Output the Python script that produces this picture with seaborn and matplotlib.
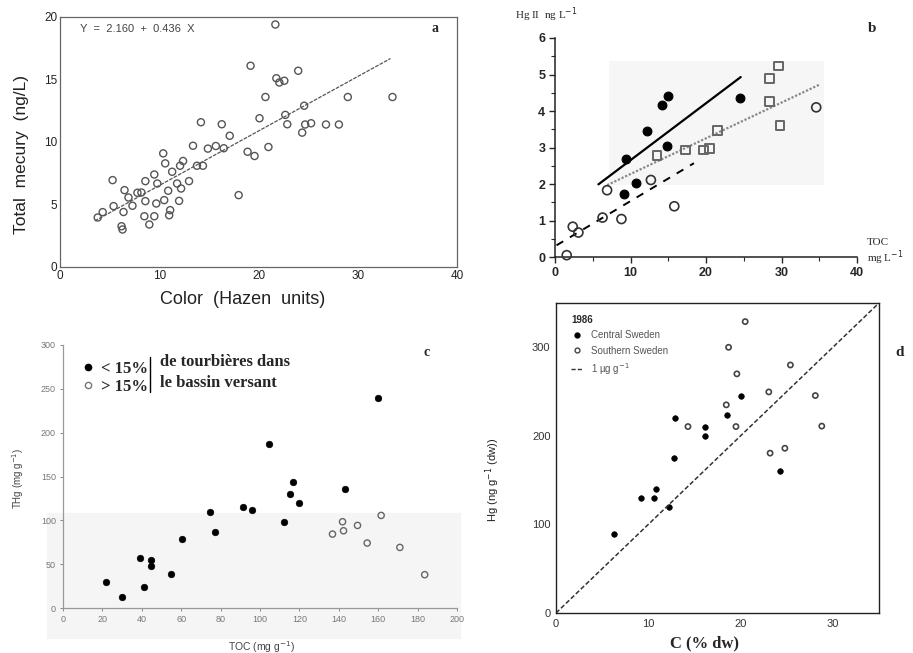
import numpy as np
import pandas as pd
import matplotlib
matplotlib.use("Agg")
import matplotlib.pyplot as plt
import seaborn as sns
from matplotlib.ticker import MultipleLocator
from matplotlib.lines import Line2D
from matplotlib.patches import Rectangle

sns.set_theme(style="white")
plt.rcParams['font.family'] = ['Liberation Sans', 'DejaVu Sans']
SERIF = ['Liberation Serif', 'DejaVu Serif']

# ---------------- Panel a data ----------------
a_color = [3.8, 4.3, 5.3, 5.4, 6.2, 6.3, 6.4, 6.5, 6.9, 7.3, 7.8, 8.2, 8.6, 8.6, 8.5,
           9.0, 9.5, 9.5, 9.7, 9.8, 10.4, 10.6, 10.5, 10.9, 11.1, 11.0, 11.3, 11.8,
           12.1, 12.0, 12.2, 12.4, 13.0, 13.4, 13.8, 14.4, 14.2, 14.9, 15.7, 16.3,
           16.5, 17.1, 18.0, 19.2, 18.9, 19.6, 20.1, 20.7, 21.0, 21.7, 21.8, 22.1,
           22.6, 22.9, 22.7, 24.0, 24.4, 24.6, 24.7, 25.3, 26.8, 28.1, 29.0, 33.5]
a_hg = [3.96, 4.39, 6.95, 4.87, 3.26, 3.0, 4.4, 6.15, 5.56, 4.9, 5.94, 5.96, 5.27, 6.87,
        4.06, 3.4, 7.4, 4.06, 5.08, 6.68, 9.09, 8.29, 5.35, 6.1, 4.55, 4.14, 7.62, 6.68,
        8.1, 5.29, 6.28, 8.48, 6.87, 9.7, 8.1, 8.1, 11.58, 9.47, 9.68, 11.42, 9.5, 10.5,
        5.75, 16.1, 9.22, 8.88, 11.9, 13.6, 9.6, 19.4, 15.1, 14.76, 14.9, 11.42, 12.17,
        15.7, 10.75, 12.9, 11.4, 11.5, 11.4, 11.4, 13.6, 13.6]
a_intercept = 2.160
a_slope = 0.436
a_fit_range = [3.5, 33.3]

# ---------------- Panel b data ----------------
b_filled_toc = [9.4, 10.75, 12.2, 14.2, 15.0, 14.9, 9.2, 24.5]
b_filled_hg = [2.68, 2.04, 3.44, 4.17, 4.42, 3.03, 1.72, 4.36]
b_square_toc = [13.5, 17.3, 19.7, 20.5, 21.5, 28.4, 28.4, 29.6, 29.8]
b_square_hg = [2.78, 2.93, 2.93, 2.98, 3.46, 4.26, 4.88, 5.23, 3.6]
b_open_toc = [1.55, 2.35, 3.1, 6.3, 8.8, 12.7, 15.8, 6.9, 34.6]
b_open_hg = [0.05, 0.83, 0.67, 1.08, 1.04, 2.11, 1.39, 1.83, 4.1]
b_solid_x, b_solid_y = [5.75, 24.6], [1.99, 4.93]
b_dotted_x, b_dotted_y = [6.9, 35.0], [1.97, 4.72]
b_dashed_x, b_dashed_y = [0.2, 18.4], [0.32, 2.57]

# ---------------- Panel c data ----------------
c_low_toc = [22.0, 30.0, 39.2, 41.2, 44.6, 44.6, 54.7, 60.5, 74.7, 77.3, 91.4, 95.8,
             104.6, 112.2, 115.3, 116.9, 119.7, 143.1, 160.0]
c_low_thg = [29.2, 12.5, 57.3, 23.5, 55.0, 47.5, 38.4, 78.6, 109.4, 86.6, 115.0, 112.0,
             186.9, 97.6, 129.9, 143.2, 119.6, 136.0, 239.3]
c_high_toc = [136.8, 141.9, 142.4, 149.5, 154.4, 161.5, 171.0, 183.6]
c_high_thg = [84.3, 98.4, 88.1, 94.2, 74.1, 105.6, 69.1, 38.0]

# ---------------- Panel d data ----------------
d_central_c = [6.26, 9.17, 10.58, 10.86, 12.23, 12.84, 12.9, 16.1, 16.1, 18.5, 20.0, 24.3]
d_central_hg = [88.7, 130, 130, 140, 120, 175, 220, 210, 200, 224, 245, 160.5]
d_south_c = [18.7, 20.5, 14.3, 18.45, 19.6, 19.5, 23.06, 25.4, 23.2, 24.8, 28.1, 28.8]
d_south_hg = [300, 329, 210.5, 235, 270, 210.5, 249.6, 280, 180.5, 186, 245.5, 211]
d_ref_ratio = 10.0          # 1 ug/g : Hg (ng/g) = 10 * C (%)
d_ref_range = [0, 35]

W, H = 913, 653
fig = plt.figure(figsize=(W / 100, H / 100), dpi=100)


def px_axes(l, r, t, b):
    return fig.add_axes([l / W, 1 - b / H, (r - l) / W, (b - t) / H])


# faint scan shading (behind everything)
fig.patches.append(Rectangle((47 / W, 1 - 638 / H), 413 / W, 125 / H,
                             transform=fig.transFigure, color='#f5f5f5', zorder=-5))

# ================= Panel a =================
axa = px_axes(60, 457, 17, 267)
dfa = pd.DataFrame({'color': a_color, 'hg': a_hg})
sns.scatterplot(data=dfa, x='color', y='hg', ax=axa, marker='o', s=26,
                facecolor='none', edgecolor='#555555', linewidth=1.0)
fx = np.array(a_fit_range)
sns.lineplot(x=fx, y=a_intercept + a_slope * fx, ax=axa, color='#555555',
             linewidth=0.9, linestyle=(0, (3, 1)))
axa.set_xlim(0, 40)
axa.set_ylim(0, 20)
axa.xaxis.set_major_locator(MultipleLocator(10))
axa.yaxis.set_major_locator(MultipleLocator(5))
axa.tick_params(direction='in', length=3, width=0.8, labelsize=8.5,
                colors='#222222', pad=2)
for s in axa.spines.values():
    s.set_color('#666666')
    s.set_linewidth(0.9)
axa.set_xlabel('Color  (Hazen  units)', fontsize=13, color='#222222', va='center')
axa.xaxis.set_label_coords(0.461, -0.132)
axa.set_ylabel('Total  mecury  (ng/L)', fontsize=12.5, color='#222222', va='center')
axa.yaxis.set_label_coords(-0.096, 0.448)
axa.text(0.05, 0.952, 'Y  =  2.160  +  0.436  X', transform=axa.transAxes,
         fontsize=8, color='#444444', va='center', ha='left')
axa.text(0.945, 0.952, 'a', transform=axa.transAxes, fontsize=10,
         fontweight='bold', family=SERIF, va='center', ha='center')

# ================= Panel b =================
axb = px_axes(555, 857, 38, 257)
axb.add_patch(Rectangle((7.1, 1.97), 28.5, 3.4, color='#f6f6f6', zorder=0, lw=0))
sns.lineplot(x=b_solid_x, y=b_solid_y, ax=axb, color='black', linewidth=1.6)
sns.lineplot(x=b_dotted_x, y=b_dotted_y, ax=axb, color='#888888', linewidth=1.6,
             linestyle=(0, (1, 0.8)))
sns.lineplot(x=b_dashed_x, y=b_dashed_y, ax=axb, color='black', linewidth=1.4,
             linestyle=(0, (4, 4)))
sns.scatterplot(x=b_filled_toc, y=b_filled_hg, ax=axb, marker='o', s=40,
                color='black', edgecolor='black', linewidth=0.8, zorder=5)
sns.scatterplot(x=b_square_toc, y=b_square_hg, ax=axb, marker='s', s=40,
                facecolor='none', edgecolor='#666666', linewidth=1.4, zorder=5)
sns.scatterplot(x=b_open_toc, y=b_open_hg, ax=axb, marker='o', s=42,
                facecolor='none', edgecolor='#333333', linewidth=1.2, zorder=5,
                clip_on=False)
axb.set_xlim(0, 40)
axb.set_ylim(0, 6)
sns.despine(ax=axb)
for s in ['left', 'bottom']:
    axb.spines[s].set_color('#222222')
    axb.spines[s].set_linewidth(1.1)
axb.xaxis.set_major_locator(MultipleLocator(10))
axb.xaxis.set_minor_locator(MultipleLocator(5))
axb.yaxis.set_major_locator(MultipleLocator(1))
axb.yaxis.set_minor_locator(MultipleLocator(0.5))
axb.tick_params(which='major', direction='out', length=4, width=1, labelsize=9,
                pad=3, left=True, bottom=True)
axb.tick_params(which='minor', direction='out', length=3, width=0.8,
                left=True, bottom=True)
for lab in axb.get_xticklabels() + axb.get_yticklabels():
    lab.set_fontweight('bold')
axb.set_ylabel('Hg II  ng L$^{-1}$', rotation=0, fontsize=8, family=SERIF,
               ha='left', va='center')
axb.yaxis.set_label_coords(-0.132, 1.105)
axb.set_xlabel('TOC\nmg L$^{-1}$', fontsize=8, family=SERIF, ha='left',
               va='center', linespacing=1.1)
axb.xaxis.set_label_coords(1.033, 0.02)
axb.text(1.05, 1.045, 'b', transform=axb.transAxes, fontsize=11,
         fontweight='bold', family=SERIF, va='center', ha='center')

# ================= Panel c =================
axc = px_axes(63, 457, 345, 608)
axc.set_facecolor('none')
sns.scatterplot(x=c_low_toc, y=c_low_thg, ax=axc, marker='o', s=22,
                color='black', edgecolor='black', linewidth=0.5)
sns.scatterplot(x=c_high_toc, y=c_high_thg, ax=axc, marker='o', s=20,
                facecolor='none', edgecolor='#666666', linewidth=1.0)
axc.set_xlim(0, 200)
axc.set_ylim(0, 300)
sns.despine(ax=axc)
for s in ['left', 'bottom']:
    axc.spines[s].set_color('#999999')
    axc.spines[s].set_linewidth(0.9)
axc.xaxis.set_major_locator(MultipleLocator(20))
axc.yaxis.set_major_locator(MultipleLocator(50))
axc.tick_params(direction='out', length=2, width=0.6, labelsize=6.5,
                colors='#777777', pad=3, left=True, bottom=True)
axc.set_ylabel('THg (mg g$^{-1}$)', fontsize=7, color='#444444', va='center')
axc.yaxis.set_label_coords(-0.114, 0.494)
axc.set_xlabel('TOC (mg g$^{-1}$)', fontsize=7.5, color='#444444', va='center')
axc.xaxis.set_label_coords(0.505, -0.148)
hc = [Line2D([], [], marker='o', linestyle='none', markersize=4.5, color='black'),
      Line2D([], [], marker='o', linestyle='none', markersize=4.5,
             markerfacecolor='none', markeredgecolor='#777777')]
legc = axc.legend(hc, ['< 15%', '> 15%'], loc='upper left',
                  bbox_to_anchor=(0.02, 0.985), frameon=False, handlelength=0.6,
                  handletextpad=0.5, labelspacing=0.15, borderpad=0.2,
                  prop={'family': SERIF, 'weight': 'bold', 'size': 12})
axc.plot([0.222, 0.222], [0.82, 0.955], transform=axc.transAxes, color='black',
         linewidth=1.0)
axc.text(0.247, 0.937, 'de tourbières dans', transform=axc.transAxes,
         fontsize=12, family=SERIF, fontweight='bold', va='center', ha='left')
axc.text(0.247, 0.855, 'le bassin versant', transform=axc.transAxes,
         fontsize=12, family=SERIF, fontweight='bold', va='center', ha='left')
axc.text(0.924, 0.97, 'c', transform=axc.transAxes, fontsize=10,
         fontweight='bold', family=SERIF, va='center', ha='center')

# ================= Panel d =================
axd = px_axes(556, 879, 303, 613)
rx = np.array(d_ref_range)
sns.lineplot(x=rx, y=d_ref_ratio * rx, ax=axd, color='#333333', linewidth=1.1,
             linestyle=(0, (3, 1.5)))
sns.scatterplot(x=d_central_c, y=d_central_hg, ax=axd, marker='o', s=16,
                color='black', edgecolor='black', linewidth=0.5)
sns.scatterplot(x=d_south_c, y=d_south_hg, ax=axd, marker='o', s=14,
                facecolor='none', edgecolor='#444444', linewidth=1.2)
axd.set_xlim(0, 35)
axd.set_ylim(0, 350)
axd.xaxis.set_major_locator(MultipleLocator(10))
axd.yaxis.set_major_locator(MultipleLocator(100))
axd.tick_params(direction='in', length=3, width=0.8, labelsize=8,
                colors='#333333', pad=4)
for s in axd.spines.values():
    s.set_color('#222222')
    s.set_linewidth(1.0)
axd.set_ylabel('Hg (ng g$^{-1}$ (dw))', fontsize=8, color='#222222', va='center')
axd.yaxis.set_label_coords(-0.195, 0.428)
axd.set_xlabel('C (% dw)', fontsize=12, family=SERIF, fontweight='bold',
               va='center')
axd.xaxis.set_label_coords(0.461, -0.098)
hd = [Line2D([], [], marker='o', linestyle='none', markersize=3.5, color='black'),
      Line2D([], [], marker='o', linestyle='none', markersize=3.5,
             markerfacecolor='none', markeredgecolor='#444444'),
      Line2D([], [], linestyle=(0, (3, 1.5)), color='#333333', linewidth=1.0)]
legd = axd.legend(hd, ['Central Sweden', 'Southern Sweden', '1 µg g$^{-1}$'],
                  title='1986', loc='upper left', bbox_to_anchor=(0.02, 0.99),
                  frameon=False, fontsize=7, handlelength=1.2, handletextpad=0.8,
                  labelspacing=0.55, alignment='left',
                  title_fontproperties={'weight': 'bold', 'size': 7})
for t in legd.get_texts():
    t.set_color('#555555')
fig.text(900 / W, 1 - 352 / H, 'd', fontsize=11, fontweight='bold', family=SERIF,
         ha='center', va='center')

fig.savefig('out.png', dpi=100)
